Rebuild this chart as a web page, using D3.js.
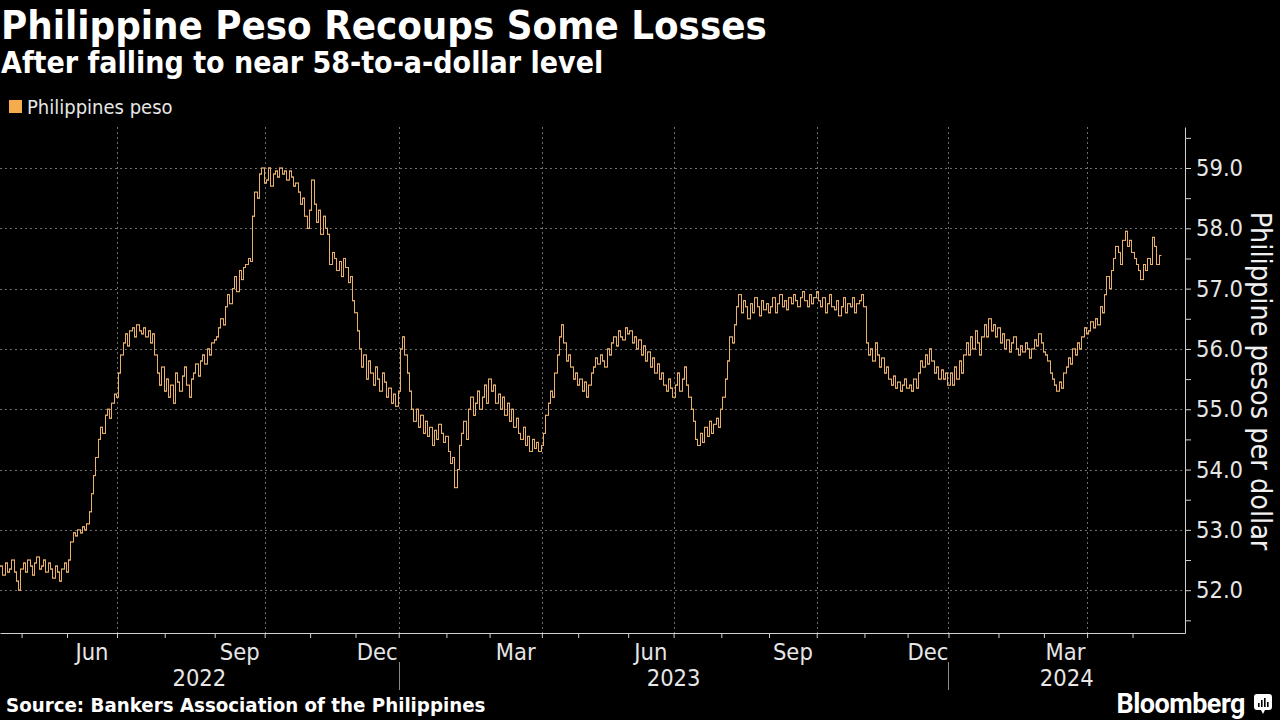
<!DOCTYPE html>
<html>
<head>
<meta charset="utf-8">
<script src="https://cdn.jsdelivr.net/npm/d3@7"></script>
<style>
body { margin: 0; background: #000; }
svg { display: block; font-family: "DejaVu Sans Condensed", "DejaVu Sans", sans-serif; }
</style>
</head>
<body>
<svg id="chart" width="1280" height="720"></svg>
<script>
// first trading day shown, and the days the market was shut
var startDay = "2022-04-18";
var holidays = ["2022-05-03", "2022-05-09", "2022-08-29", "2022-10-31", "2022-11-01", "2022-11-30",
	"2022-12-08", "2022-12-26", "2022-12-30",
	"2023-01-02", "2023-02-24", "2023-04-06", "2023-04-07", "2023-04-10", "2023-04-21", "2023-05-01",
	"2023-06-12", "2023-06-28", "2023-08-21", "2023-08-28", "2023-10-30", "2023-11-01", "2023-11-02",
	"2023-11-27", "2023-12-08", "2023-12-25", "2023-12-26",
	"2024-01-01", "2024-02-09", "2024-03-28", "2024-03-29", "2024-04-09", "2024-04-10", "2024-05-01"];

// daily closes, pesos per dollar
var closes2022 = [
	52.40, 52.25, 52.45, 52.30, 52.35, 52.50, 52.30, 52.15, 52.00, 52.35,                  // apr
	52.45, 52.30, 52.50, 52.40, 52.25, 52.45, 52.55, 52.35, 52.40, 52.50,                  // may
	52.30, 52.45, 52.35, 52.20, 52.40, 52.30, 52.15, 52.35, 52.45, 52.30,
	52.50, 52.80, 52.95, 52.90, 53.00, 52.95, 53.05, 53.00, 53.10, 53.30, 53.60,           // jun
	53.90, 54.20, 54.50, 54.70, 54.60, 54.90, 55.00, 54.85, 55.10, 55.25, 55.20,
	55.60, 55.90, 56.10, 56.25, 56.05, 56.30, 56.35, 56.20, 56.40, 56.30, 56.25,           // jul
	56.35, 56.20, 56.30, 56.10, 56.25, 55.90, 55.60, 55.40, 55.70, 55.30,
	55.50, 55.20, 55.40, 55.10, 55.60, 55.45, 55.30, 55.55, 55.70, 55.40, 55.20,           // aug
	55.50, 55.60, 55.75, 55.55, 55.80, 55.90, 55.75, 56.00, 55.90, 56.10, 56.15,
	56.20, 56.35, 56.50, 56.40, 56.70, 56.90, 56.75, 57.00, 57.20, 56.95, 57.30,           // sep
	57.15, 57.35, 57.40, 57.50, 57.45, 58.20, 58.60, 58.50, 58.90, 59.00, 58.75,
	58.80, 59.00, 58.70, 58.90, 58.95, 58.85, 59.00, 58.90, 58.95, 58.80,                  // oct
	58.95, 58.85, 58.70, 58.75, 58.60, 58.40, 58.50, 58.20, 58.00, 58.30,
	58.80, 58.40, 58.10, 58.30, 57.90, 58.20, 58.00, 57.90, 57.40, 57.60,                  // nov
	57.50, 57.30, 57.45, 57.20, 57.50, 57.35, 57.10, 57.20, 56.80, 56.60,
	56.30, 56.00, 55.70, 55.90, 55.50, 55.80, 55.60, 55.40, 55.70, 55.50,                  // dec
	55.30, 55.60, 55.45, 55.20, 55.35, 55.10, 55.25, 55.05, 55.30
];
var closes2023 = [
	56.00, 56.20, 55.90, 55.60, 55.30, 55.00, 54.80, 55.00, 54.70, 54.90, 54.60,           // jan
	54.80, 54.55, 54.70, 54.40, 54.65, 54.50, 54.75, 54.60, 54.45, 54.55,
	54.30, 54.10, 54.20, 53.70, 54.00, 54.40, 54.60, 54.80, 54.50, 55.00,                  // feb
	55.20, 54.90, 55.10, 55.30, 55.00, 55.20, 55.40, 55.10, 55.50,
	55.30, 55.40, 55.10, 55.25, 55.00, 55.20, 54.90, 55.10, 54.80, 55.00, 54.70, 54.85,    // mar
	54.60, 54.50, 54.70, 54.40, 54.55, 54.30, 54.50, 54.35, 54.45, 54.30, 54.40,
	54.60, 54.90, 55.10, 55.30, 55.20, 55.60, 55.90, 56.20,                                // apr
	56.40, 56.10, 55.80, 55.90, 55.70, 55.50, 55.60, 55.40,
	55.50, 55.30, 55.45, 55.20, 55.40, 55.60, 55.70, 55.85, 55.75, 55.90, 55.80,           // may
	55.70, 56.00, 55.90, 56.10, 56.20, 56.05, 56.30, 56.20, 56.15, 56.35, 56.25,
	56.30, 56.10, 56.20, 56.00, 56.15, 55.90, 56.05, 55.80, 55.95, 55.70,                  // jun
	55.85, 55.60, 55.75, 55.50, 55.60, 55.40, 55.30, 55.50, 55.35, 55.20,
	55.40, 55.60, 55.30, 55.50, 55.70, 55.40, 55.20, 55.00, 54.80, 54.50, 54.40,           // jul
	54.60, 54.45, 54.70, 54.55, 54.80, 54.60, 54.75, 54.85, 54.70, 55.00,
	55.20, 55.50, 55.80, 56.20, 56.10, 56.40, 56.70, 56.90, 56.60, 56.80, 56.70,           // aug
	56.50, 56.75, 56.60, 56.85, 56.70, 56.55, 56.80, 56.65, 56.75, 56.60,
	56.70, 56.85, 56.60, 56.75, 56.90, 56.70, 56.80, 56.65, 56.85, 56.75, 56.90,           // sep
	56.80, 56.70, 56.85, 56.95, 56.80, 56.70, 56.90, 56.75, 56.85, 56.95,
	56.80, 56.70, 56.85, 56.60, 56.75, 56.90, 56.70, 56.65, 56.80, 56.55, 56.70,           // oct
	56.85, 56.60, 56.75, 56.70, 56.85, 56.60, 56.75, 56.80, 56.90, 56.70,
	56.10, 55.90, 56.00, 55.80, 56.10, 55.90, 55.70, 55.85, 55.60, 55.70,                  // nov
	55.50, 55.40, 55.55, 55.35, 55.45, 55.30, 55.40, 55.50, 55.35,
	55.40, 55.30, 55.50, 55.35, 55.60, 55.80, 55.70, 55.90, 55.75,                         // dec
	56.00, 55.80, 55.60, 55.70, 55.50, 55.65, 55.50, 55.60, 55.40
];
var closes2024 = [
	55.60, 55.40, 55.70, 55.50, 55.80, 55.60, 55.90, 56.10, 55.90, 56.20, 56.00,           // jan
	56.30, 56.10, 55.90, 56.20, 56.40, 56.20, 56.50, 56.30, 56.40, 56.20, 56.35,
	56.10, 56.25, 56.00, 56.15, 55.95, 56.10, 56.20, 56.00, 55.90, 56.05,                  // feb
	55.95, 56.10, 56.00, 55.85, 56.00, 56.15, 56.05, 56.25, 56.10, 55.95,
	55.90, 55.80, 55.60, 55.50, 55.40, 55.30, 55.45, 55.35, 55.60, 55.70,                  // mar
	55.85, 55.75, 56.00, 55.90, 56.10, 56.00, 56.20, 56.35, 56.25,
	56.30, 56.45, 56.35, 56.50, 56.40, 56.70, 56.60, 56.90, 57.20, 57.00,                  // apr
	57.30, 57.50, 57.70, 57.60, 57.40, 57.80, 57.95, 57.70, 57.80, 57.60,
	57.50, 57.40, 57.30, 57.15, 57.40, 57.30, 57.50, 57.40, 57.85, 57.70, 57.40, 57.55     // may
];

var yTicks = [52, 53, 54, 55, 56, 57, 58, 59];
var monthNames = ["Jan", "Feb", "Mar", "Apr", "May", "Jun", "Jul", "Aug", "Sep", "Oct", "Nov", "Dec"];

var width = 1280, height = 720;
var plot = {left: 0, right: 1185, top: 127, bottom: 633};
var barColor = "#e9b06a";
var axisFont = 23.5;

var fmt = d3.utcFormat("%Y-%m-%d");
var closes = closes2022.concat(closes2023, closes2024);

// trading days: weekdays that are not holidays
var days = [];
var d = d3.utcParse("%Y-%m-%d")(startDay);
while (days.length < closes.length) {
	var wd = d.getUTCDay();
	if (wd !== 0 && wd !== 6 && holidays.indexOf(fmt(d)) < 0) days.push(d);
	d = d3.utcDay.offset(d, 1);
}

var data = closes.map(function(c, i) {
	return {i: i, date: days[i], open: i ? closes[i - 1] : c, close: c};
});

// first trading day of each month
var monthStarts = [];
data.forEach(function(p, i) {
	if (i === 0 || p.date.getUTCMonth() !== data[i - 1].date.getUTCMonth()) monthStarts.push(p);
});

var x = d3.scaleLinear().domain([0, 521.6]).range([plot.left, plot.right]);
var y = d3.scaleLinear().domain([51.29, 59.68]).range([plot.bottom, plot.top]);

var svg = d3.select("#chart");
svg.append("rect").attr("width", width).attr("height", height).attr("fill", "#000");

// grid
var grid = svg.append("g").attr("stroke", "#6e6e6e").attr("stroke-width", 1).attr("stroke-dasharray", "2,3");
yTicks.forEach(function(v) {
	grid.append("line")
		.attr("x1", plot.left).attr("x2", plot.right)
		.attr("y1", Math.round(y(v)) + 0.5).attr("y2", Math.round(y(v)) + 0.5);
});
monthStarts.filter(function(m) { return m.i > 0 && m.date.getUTCMonth() % 3 === 0; }).forEach(function(m) {
	var gx = Math.round(x(m.i - 0.5)) + 0.5;
	grid.append("line").attr("x1", gx).attr("x2", gx).attr("y1", plot.top).attr("y2", plot.bottom);
});

// OHLC bars
var path = d3.path();
data.forEach(function(p) {
	var bx = Math.round(x(p.i)) + 0.5;
	var hi = y(Math.max(p.open, p.close)), lo = y(Math.min(p.open, p.close));
	path.moveTo(bx, lo + 0.5);
	path.lineTo(bx, hi - 0.5);
	path.moveTo(bx - 2, y(p.open));
	path.lineTo(bx, y(p.open));
	path.moveTo(bx, y(p.close));
	path.lineTo(bx + 2, y(p.close));
});
svg.append("path").attr("d", path.toString()).attr("fill", "none")
	.attr("stroke", barColor).attr("stroke-width", 1);

// axes
var xAxis = svg.append("g").attr("transform", "translate(0," + plot.bottom + ")")
	.call(d3.axisBottom(x)
		.tickValues(monthStarts.filter(function(m) { return m.i > 0; }).map(function(m) { return m.i - 0.5; }))
		.tickSize(5).tickSizeOuter(0).tickFormat(""));
var halfTicks = d3.range(51.5, 59.51, 0.5);
var yAxis = svg.append("g").attr("transform", "translate(" + plot.right + ",0)")
	.call(d3.axisRight(y).tickValues(halfTicks).tickSize(6).tickSizeOuter(0).tickPadding(5)
		.tickFormat(function(v) { return v % 1 === 0 ? v.toFixed(1) : ""; }));
[xAxis, yAxis].forEach(function(a) {
	a.select(".domain").attr("stroke", "#d0d0d0");
	a.selectAll(".tick line").attr("stroke", "#d0d0d0");
	a.selectAll("text").attr("fill", "#e6e6e6").attr("font-size", axisFont)
		.attr("font-family", "\"DejaVu Sans Condensed\", \"DejaVu Sans\", sans-serif");
});

// month labels (quarter middles)
monthStarts.forEach(function(m, k) {
	if (k + 1 >= monthStarts.length || m.date.getUTCMonth() % 3 !== 2) return;
	var cx = x((m.i + monthStarts[k + 1].i) / 2 - 0.5);
	svg.append("text").attr("x", cx).attr("y", 660).attr("text-anchor", "middle")
		.attr("fill", "#e6e6e6").attr("font-size", axisFont).text(monthNames[m.date.getUTCMonth()]);
});

// year labels and separators
var yearStarts = monthStarts.filter(function(m) { return m.i > 0 && m.date.getUTCMonth() === 0; });
var edges = [plot.left].concat(yearStarts.map(function(m) { return x(m.i - 0.5); }), [plot.right]);
var years = [2022].concat(yearStarts.map(function(m) { return m.date.getUTCFullYear(); }));
years.forEach(function(yr, k) {
	svg.append("text").attr("x", (edges[k] + edges[k + 1]) / 2).attr("y", 686)
		.attr("text-anchor", "middle").attr("fill", "#e6e6e6").attr("font-size", axisFont).text(yr);
});
yearStarts.forEach(function(m) {
	var sx = Math.round(x(m.i - 0.5)) + 0.5;
	svg.append("line").attr("x1", sx).attr("x2", sx).attr("y1", 662).attr("y2", 690)
		.attr("stroke", "#8a8a8a");
});

// y axis title
svg.append("text").attr("transform", "translate(1251,381) rotate(90)")
	.attr("text-anchor", "middle").attr("fill", "#f0f0f0").attr("font-size", 28.5)
	.text("Philippine pesos per dollar");

// titles
svg.append("text").attr("x", 1).attr("y", 39).attr("fill", "#fff")
	.attr("font-size", 39.8).attr("font-weight", "bold").text("Philippine Peso Recoups Some Losses");
svg.append("text").attr("x", 1).attr("y", 73).attr("fill", "#fff")
	.attr("font-size", 30).attr("font-weight", "bold").text("After falling to near 58-to-a-dollar level");

// legend
svg.append("rect").attr("x", 9).attr("y", 100).attr("width", 13).attr("height", 13).attr("fill", "#f5ac4c");
svg.append("text").attr("x", 27).attr("y", 114).attr("fill", "#e6e6e6").attr("font-size", 20)
	.text("Philippines peso");

// footer
svg.append("text").attr("x", 6).attr("y", 712).attr("fill", "#fff").attr("font-size", 20.3)
	.attr("font-weight", "bold").text("Source: Bankers Association of the Philippines");
svg.append("text").attr("x", 1245).attr("y", 713).attr("text-anchor", "end").attr("fill", "#fff")
	.attr("font-size", 27).attr("font-weight", "bold").attr("font-family", "Roboto, sans-serif")
	.attr("letter-spacing", -0.5).text("Bloomberg");
var logo = svg.append("g").attr("transform", "translate(1254,694)");
logo.append("rect").attr("width", 18).attr("height", 16).attr("rx", 3).attr("fill", "#fff");
logo.append("path").attr("d", "M7,16 L9,20 L11,16 Z").attr("fill", "#fff");
[[4, 9], [7, 6], [10, 4], [13, 8]].forEach(function(b) {
	logo.append("rect").attr("x", b[0]).attr("y", b[1]).attr("width", 1.6).attr("height", 13 - b[1]).attr("fill", "#000");
});
</script>
</body>
</html>
